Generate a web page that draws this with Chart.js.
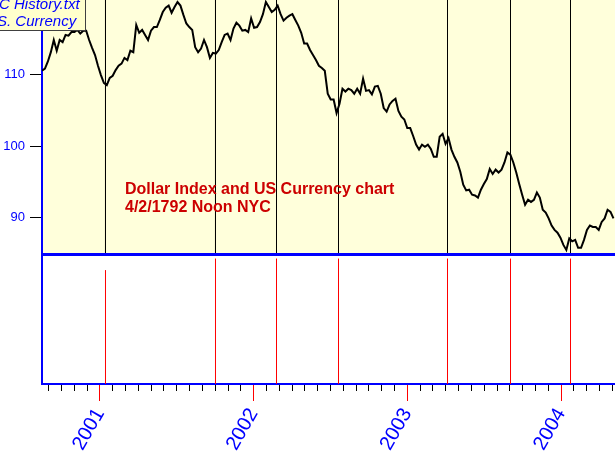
<!DOCTYPE html>
<html>
<head>
<meta charset="utf-8">
<style>
  html, body { margin: 0; padding: 0; background: #fff; }
  #wrap { position: relative; width: 615px; height: 458px; overflow: hidden; }
  canvas { position: absolute; left: 0; }
  #priceChart { top: 0; }
  #eventChart { top: 256px; }
</style>
</head>
<body>
<div id="wrap">
  <canvas id="priceChart" width="615" height="256"></canvas>
  <canvas id="eventChart" width="615" height="202"></canvas>
</div>
<script src="https://cdn.jsdelivr.net/npm/chart.js@4.4.1/dist/chart.umd.min.js"></script>
<script>
// weekly closes of the dollar index, first one mid Aug 2000
const firstWeek = 2000.623;
const weekStep = 7 / 365.25;
const dollarIndex = [
  110.5, 110.8, 111.8, 113.1, 114.8, 113.3, 114.8, 114.5, 115.5, 115.4,
  115.9, 115.9, 116.2, 115.7, 116.1, 116.1, 114.8, 113.7, 112.7, 111.2,
  109.9, 108.8, 108.5, 109.5, 109.8, 110.6, 111.2, 111.5, 112.3, 112.0,
  113.3, 113.1, 116.9, 115.8, 116.2, 115.5, 114.8, 116.1, 116.6, 116.6,
  117.6, 118.7, 119.3, 119.6, 118.6, 119.4, 120.1, 119.6, 118.3, 117.1,
  116.6, 116.2, 113.8, 113.1, 113.6, 114.8, 113.8, 112.3, 113.0, 112.9,
  113.4, 114.5, 115.5, 115.7, 114.8, 116.4, 117.2, 116.8, 116.1, 116.2,
  115.9, 117.8, 116.5, 116.6, 117.3, 118.4, 120.1, 119.4, 118.7, 119.0,
  119.6, 118.4, 117.5, 117.9, 118.2, 118.4, 117.6, 116.8, 115.8, 114.3,
  114.3, 113.4, 112.7, 112.0, 111.2, 110.9, 110.5, 107.3, 106.5, 106.5,
  104.6, 105.9, 108.0, 107.6, 108.0, 107.8, 107.3, 108.0, 107.3, 109.4,
  107.7, 107.8, 107.2, 108.3, 108.4, 107.3, 105.3, 104.8, 105.8, 106.3,
  106.6, 104.9, 104.1, 103.7, 102.5, 102.5, 101.4, 100.2, 99.5, 100.2,
  99.9, 100.2, 99.6, 98.5, 98.5, 101.3, 101.7, 100.3, 101.1, 99.5,
  98.5, 97.7, 96.4, 94.6, 93.8, 93.9, 93.2, 93.1, 92.8, 93.9,
  94.7, 95.4, 96.8, 96.1, 96.7, 96.3, 96.7, 97.7, 99.1, 98.8,
  97.7, 96.3, 94.7, 93.2, 91.8, 92.5, 92.2, 92.5, 93.5, 92.8,
  91.1, 90.7, 89.9, 88.9, 88.3, 87.9, 87.2, 86.2, 85.5, 87.1,
  86.7, 86.9, 85.8, 85.8, 86.9, 88.3, 88.9, 88.7, 88.7, 88.3,
  89.4, 89.9, 91.1, 90.8, 89.9
];
// event dates (decimal years) and how tall the red marker is in the lower panel
const eventDates = [2001.0361, 2001.7518, 2002.1487, 2002.5521, 2003.2613, 2003.6712, 2004.0615];
const eventHeights = [0.89, 0.98, 0.98, 0.98, 0.98, 0.98, 0.98];
const priceTicks = [90, 100, 110];
const yearTicks = [2001, 2002, 2003, 2004];

const xMin = 2000.623, xMax = 2004.351;
const yMin = 84.65, yMax = 120.38;

const FONT = "'Liberation Sans', Arial, sans-serif";

const pricePoints = dollarIndex.map((v, i) => ({ x: firstWeek + i * weekStep, y: v }));
const topEventLines = eventDates.flatMap(d => [{ x: d, y: yMax }, { x: d, y: yMin }, { x: d, y: null }]);
const bottomEventLines = eventDates.flatMap((d, i) => [{ x: d, y: 0 }, { x: d, y: eventHeights[i] }, { x: d, y: null }]);

// monthly ticks along the time axis
const monthTicks = [];
for (let y = 2000; y <= 2004; y++) {
  for (let m = 0; m < 12; m++) {
    const v = y + m / 12;
    if (v >= xMin && v <= xMax) monthTicks.push(v);
  }
}
const isYear = v => yearTicks.includes(v);

const panelBackground = {
  id: 'panelBackground',
  beforeDraw(chart, args, opts) {
    const { ctx, chartArea: a } = chart;
    ctx.save();
    ctx.fillStyle = opts.color;
    ctx.fillRect(a.left, a.top, a.right - a.left, a.bottom - a.top);
    ctx.restore();
  }
};

const priceDecor = {
  id: 'priceDecor',
  afterDatasetsDraw(chart) {
    const { ctx, chartArea: a } = chart;
    ctx.save();
    ctx.strokeStyle = '#0000ff';
    ctx.lineWidth = 3;
    ctx.beginPath();
    ctx.moveTo(a.left - 1, a.bottom - 1.5);
    ctx.lineTo(a.right, a.bottom - 1.5);
    ctx.stroke();
    ctx.restore();
  },
  afterDraw(chart) {
    const { ctx } = chart;
    ctx.save();
    // the red caption
    ctx.fillStyle = '#cc0000';
    ctx.font = 'bold 16px ' + FONT;
    ctx.textBaseline = 'alphabetic';
    ctx.fillText('Dollar Index and US Currency chart', 125, 194);
    ctx.fillText('4/2/1792 Noon NYC', 125, 212);
    // legend box, cut off at the left edge
    ctx.fillStyle = '#ffffcc';
    ctx.fillRect(0, 0, 85, 30);
    ctx.strokeStyle = '#404040';
    ctx.lineWidth = 1;
    ctx.beginPath();
    ctx.moveTo(85.5, 0);
    ctx.lineTo(85.5, 30.5);
    ctx.lineTo(0, 30.5);
    ctx.stroke();
    ctx.fillStyle = '#0000ff';
    ctx.font = 'italic 15px ' + FONT;
    ctx.fillText('C History.txt', -1, 9);
    ctx.fillText('S. Currency', -3, 26);
    ctx.restore();
  }
};

new Chart(document.getElementById('priceChart'), {
  type: 'line',
  data: {
    datasets: [
      {
        data: pricePoints,
        borderColor: '#000000',
        borderWidth: 2,
        pointRadius: 0,
        tension: 0,
        order: 1
      },
      {
        data: topEventLines,
        borderColor: '#000000',
        borderWidth: 1,
        pointRadius: 0,
        spanGaps: false,
        order: 2
      }
    ]
  },
  options: {
    responsive: false,
    animation: false,
    events: [],
    layout: { padding: 0 },
    plugins: {
      legend: { display: false },
      tooltip: { enabled: false },
      panelBackground: { color: '#ffffdb' }
    },
    scales: {
      x: { type: 'linear', min: xMin, max: xMax, display: false },
      y: {
        min: yMin,
        max: yMax,
        afterBuildTicks: s => { s.ticks = priceTicks.map(v => ({ value: v })); },
        afterFit: s => { s.width = 42; s.paddingTop = 0; s.paddingBottom = 0; },
        ticks: { color: '#0000ff', font: { family: FONT, size: 13 }, padding: 5 },
        grid: { drawOnChartArea: false, tickLength: 12, tickColor: '#000000' },
        border: { color: '#0000ff', width: 2 }
      }
    }
  },
  plugins: [panelBackground, priceDecor]
});

new Chart(document.getElementById('eventChart'), {
  type: 'line',
  data: {
    datasets: [{
      data: bottomEventLines,
      borderColor: '#ff0000',
      borderWidth: 1,
      pointRadius: 0,
      spanGaps: false
    }]
  },
  options: {
    responsive: false,
    animation: false,
    events: [],
    layout: { padding: 0 },
    plugins: { legend: { display: false }, tooltip: { enabled: false } },
    scales: {
      x: {
        type: 'linear',
        min: xMin,
        max: xMax,
        afterBuildTicks: s => { s.ticks = monthTicks.map(v => ({ value: v })); },
        afterFit: s => { s.height = 74; s.paddingLeft = 0; s.paddingRight = 0; },
        ticks: {
          autoSkip: false,
          minRotation: 60,
          maxRotation: 60,
          padding: 3,
          color: '#0000ff',
          font: { family: FONT, size: 20 },
          callback: v => (isYear(v) ? String(v) : '')
        },
        grid: {
          drawOnChartArea: false,
          tickLength: 17,
          tickColor: c => (c.tick && isYear(c.tick.value) ? '#ff0000' : '#000000'),
          tickBorderDash: c => (c.tick && isYear(c.tick.value) ? [] : [6, 40])
        },
        border: { color: '#0000ff', width: 2 }
      },
      y: {
        min: 0,
        max: 1,
        afterFit: s => { s.width = 42; s.paddingTop = 0; s.paddingBottom = 0; },
        ticks: { display: false },
        grid: { display: false },
        border: { color: '#0000ff', width: 2 }
      }
    }
  }
});
</script>
</body>
</html>
